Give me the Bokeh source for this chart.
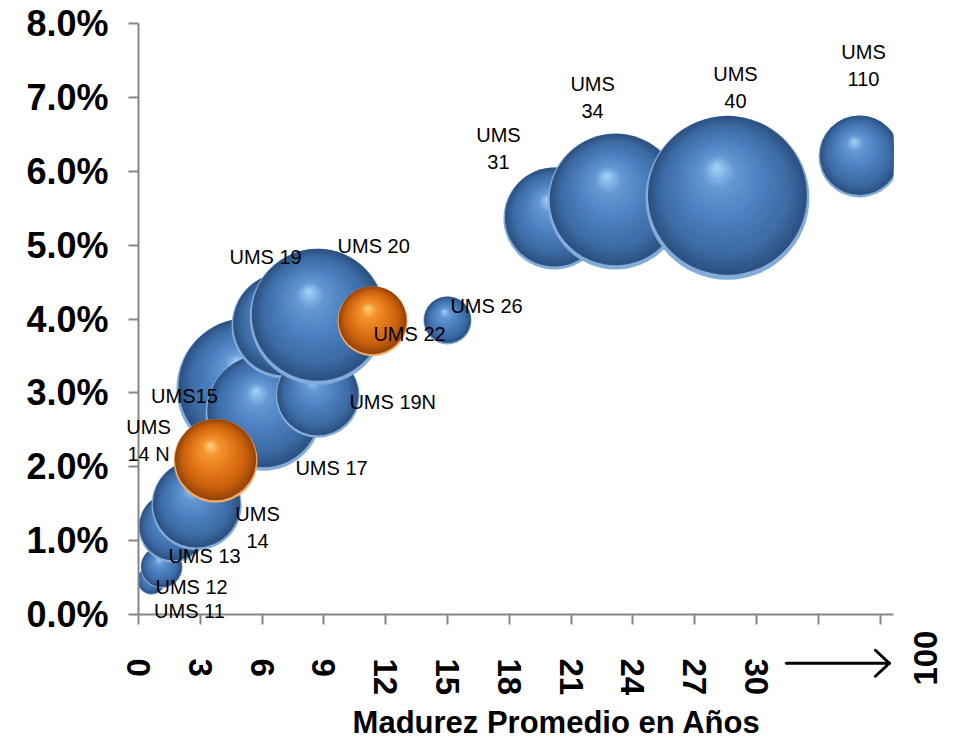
import math
from bokeh.plotting import figure
from bokeh.models import Range1d, FixedTicker, NumeralTickFormatter
from bokeh.core.properties import value
from bokeh.embed import file_html
from bokeh.resources import INLINE

# ---------------- data ----------------
# blue series (drawn in this order)
blue_names = ["UMS 11", "UMS 12", "UMS 13", "UMS 14", "UMS15", "UMS 17", "UMS 19",
              "UMS 19N", "UMS 20", "UMS 26", "UMS 31", "UMS 34", "UMS 40", "UMS 110"]
blue_labels = ["UMS 11", "UMS 12", "UMS 13", "UMS\n14", "UMS15", "UMS 17", "UMS 19",
               "UMS 19N", "UMS 20", "UMS 26", "UMS\n31", "UMS\n34", "UMS\n40", "UMS\n110"]
blue_madurez = [0.63, 1.12, 1.70, 2.82, 5.24, 6.07, 7.09, 8.70, 8.70, 15.0, 20.19, 23.16, 28.59, 35.0]
blue_rend = [0.0046, 0.0064, 0.0118, 0.0148, 0.0306, 0.0273, 0.0391, 0.0296, 0.0403,
             0.0398, 0.0536, 0.0559, 0.0564, 0.0620]
blue_monto = [2.0, 4.4, 12.3, 20.3, 49.0, 33.6, 28.1, 17.6, 46.2, 5.8, 26.0, 46.2, 67.2, 16.8]

# orange series (drawn on top)
orange_names = ["UMS 14 N", "UMS 22"]
orange_labels = ["UMS\n14 N", "UMS 22"]
orange_madurez = [3.74, 11.36]
orange_rend = [0.0208, 0.0397]
orange_monto = [17.6, 12.3]

x_ticks = list(range(0, 37, 3))
x_tick_hidden = [33, 36]
x_break_label = "100"
y_ticks = [i / 100 for i in range(9)]
x_title = "Madurez Promedio en Años"

# label offsets from the bubble centre (screen px: right, down) -- layout only
blue_label_off = [(38, 30), (30, 20), (31, 29), (61, 22), (-62, 8), (68, 55), (-19, -69),
                  (75, 6), (56, -71), (39, -14), (-56, -70), (-23, -104), (8, -110), (4, -91)]
orange_label_off = [(-67, -20), (37, 13)]

# ---------------- layout ----------------
X_END, Y_END = 36.65, 0.08
FRAME_W, FRAME_H = 755, 591
PX_X = FRAME_W / X_END
PX_Y = FRAME_H / Y_END
R_SCALE = 10.0  # screen px per sqrt(monto)
FONT = "Liberation Sans"
AXIS_COL = "#868686"

p = figure(width=961, height=740, output_backend="svg", toolbar_location=None,
           x_range=Range1d(0, X_END), y_range=Range1d(0, Y_END),
           min_border_left=138, min_border_right=961 - 138 - FRAME_W,
           min_border_top=23, min_border_bottom=740 - 23 - FRAME_H)
p.outline_line_color = None
p.xgrid.visible = False
p.ygrid.visible = False
p.background_fill_color = "white"
p.border_fill_color = "white"

for ax in (p.xaxis[0], p.yaxis[0]):
    ax.axis_line_color = AXIS_COL
    ax.axis_line_width = 2
    ax.major_tick_line_color = AXIS_COL
    ax.major_tick_line_width = 2
    ax.major_tick_out = 10
    ax.major_tick_in = 0
    ax.minor_tick_line_color = None
    ax.major_label_text_font = FONT
    ax.major_label_text_font_style = "bold"
    ax.major_label_text_color = "black"

p.xaxis[0].ticker = FixedTicker(ticks=x_ticks)
p.xaxis[0].major_label_overrides = {t: "" for t in x_tick_hidden}
p.xaxis[0].major_label_orientation = "vertical"
p.xaxis[0].major_label_text_font_size = "33px"
p.xaxis[0].major_label_standoff = 34

p.yaxis[0].ticker = FixedTicker(ticks=y_ticks)
p.yaxis[0].formatter = NumeralTickFormatter(format="0.0%")
p.yaxis[0].major_label_text_font_size = "36px"
p.yaxis[0].major_label_standoff = 20


def hex2rgb(h):
    h = h.lstrip("#")
    return tuple(int(h[i:i + 2], 16) for i in (0, 2, 4))


def ramp(stops, t):
    for (t0, c0), (t1, c1) in zip(stops, stops[1:]):
        if t <= t1:
            f = (t - t0) / (t1 - t0) if t1 > t0 else 0
            a, b = hex2rgb(c0), hex2rgb(c1)
            return "#%02x%02x%02x" % tuple(int(round(a[k] + (b[k] - a[k]) * f)) for k in range(3))
    return stops[-1][1]


BLUE = dict(rim="#84acd9", stops=[(0, "#2d5283"), (0.2, "#3d6ca6"), (0.5, "#4c80bf"),
                                   (0.8, "#6498d3"), (1.0, "#a2cff8")])
ORANGE = dict(rim="#f4aa66", stops=[(0, "#96460a"), (0.2, "#c85f0d"), (0.5, "#e5781a"),
                                     (0.8, "#f5962e"), (1.0, "#ffcf80")])

N = 26


def sphere(x, y, monto, style):
    r = R_SCALE * math.sqrt(monto)
    xs, ys, rs, cs = [x], [y], [r], [style["rim"]]
    c0 = (0.0, 0.03 * r)
    foc = (-0.13 * r, 0.37 * r)
    for i in range(N):
        t = i / (N - 1)
        cx = c0[0] + t * (foc[0] - c0[0])
        cy = c0[1] + t * (foc[1] - c0[1])
        rad = 0.97 * r * (1 - t) + 0.03 * r * t
        xs.append(x + cx / PX_X)
        ys.append(y + cy / PX_Y)
        rs.append(rad)
        cs.append(ramp(style["stops"], t))
    p.circle(x=xs, y=ys, radius=rs, radius_units="screen", fill_color=cs, line_color=None)


for xv, yv, m in zip(blue_madurez, blue_rend, blue_monto):
    sphere(xv, yv, m, BLUE)
for xv, yv, m in zip(orange_madurez, orange_rend, orange_monto):
    sphere(xv, yv, m, ORANGE)

lx, ly, lt = [], [], []
for xs_, ys_, labs, offs in ((blue_madurez, blue_rend, blue_labels, blue_label_off),
                             (orange_madurez, orange_rend, orange_labels, orange_label_off)):
    for xv, yv, lab, (dx, dy) in zip(xs_, ys_, labs, offs):
        lx.append(xv + dx / PX_X)
        ly.append(yv - dy / PX_Y)
        lt.append(lab)

p.text(x=lx, y=ly, text=lt, text_font=value(FONT), text_font_size="20px",
       text_align="center", text_baseline="middle", text_line_height=1.22, text_color="black",
       level="overlay")

# broken-axis marker: arrow from 30 to 100 (drawn below the axis)
AR_Y = -0.0066
AR_X0, AR_X1 = 31.45, 36.45
head_dx, head_dy = 14 / PX_X, 13 / PX_Y
p.segment(x0=[AR_X0, AR_X1 - head_dx, AR_X1 - head_dx], y0=[AR_Y, AR_Y + head_dy, AR_Y - head_dy],
          x1=[AR_X1] * 3, y1=[AR_Y] * 3, line_width=3, line_color="black", line_cap="round",
          level="overlay")
p.text(x=[38.2], y=[-0.0059], text=[x_break_label], angle=math.pi / 2,
       text_align="center", text_baseline="middle", text_font=value(FONT),
       text_font_style="bold", text_font_size="33px", text_color="black", level="overlay")
# axis title
p.text(x=[20.3], y=[-0.0146], text=[x_title], text_align="center", text_baseline="middle",
       text_font=value(FONT), text_font_style="bold", text_font_size="31px", text_color="black",
       level="overlay")

open("out.html", "w").write(file_html(p, INLINE))
